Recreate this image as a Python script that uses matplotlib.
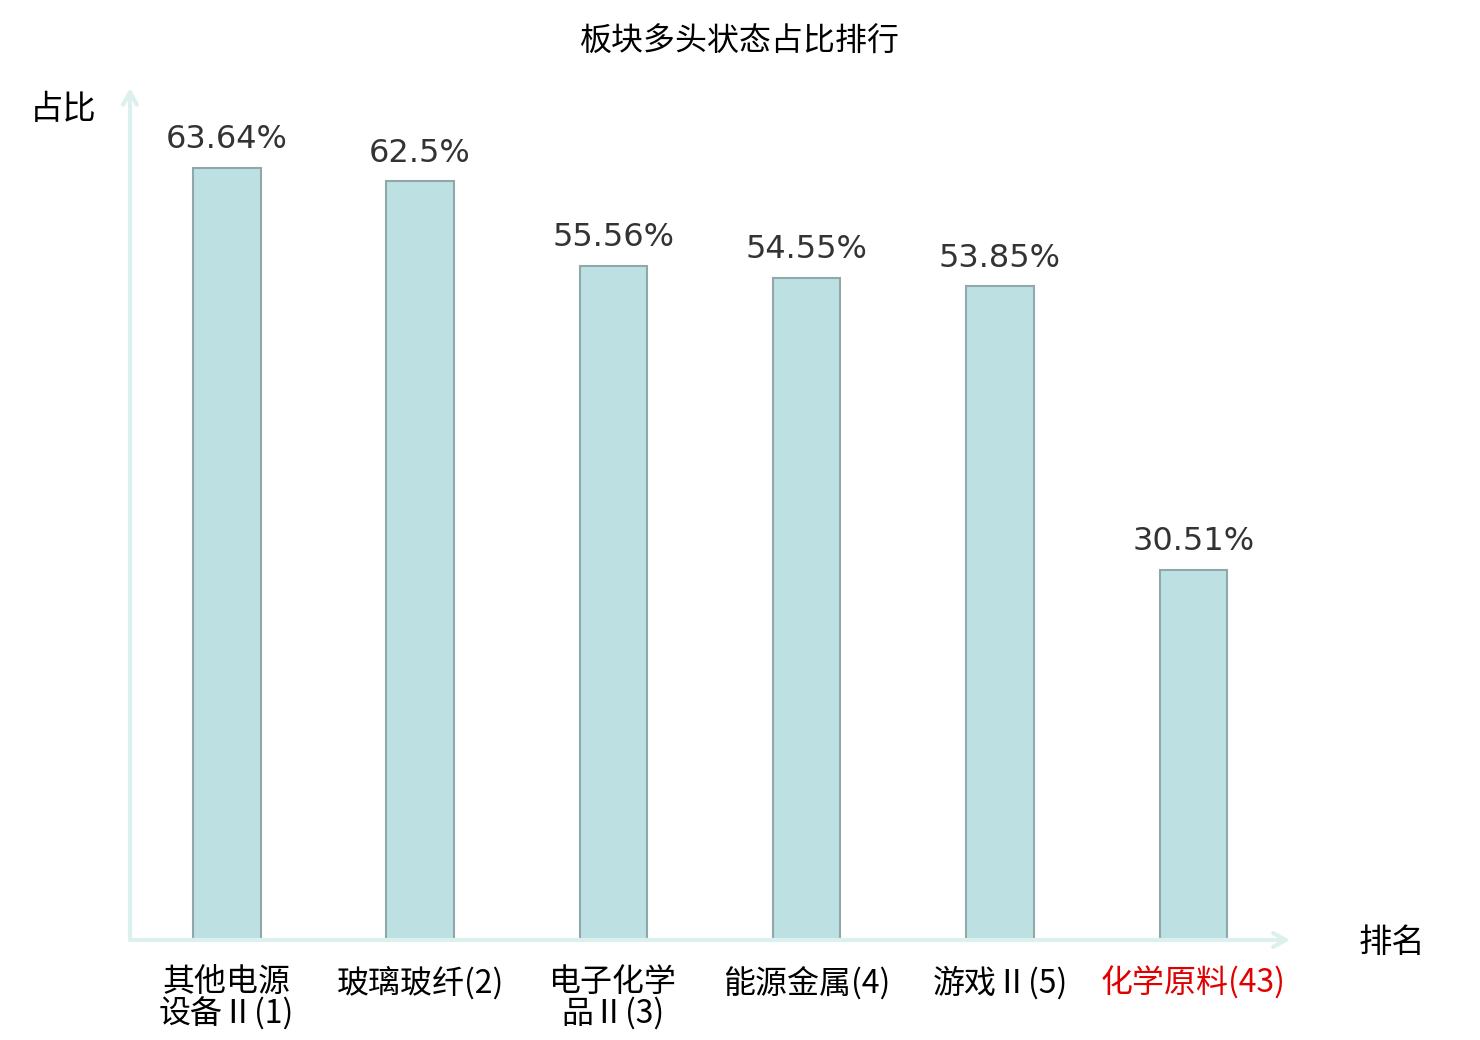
import matplotlib

matplotlib.use("Agg")
import matplotlib.pyplot as plt

plt.rcParams["font.family"] = ["Noto Sans CJK SC", "DejaVu Sans"]

# data
sectors = ["其他电源\n设备Ⅱ(1)", "玻璃玻纤(2)", "电子化学\n品Ⅱ(3)", "能源金属(4)", "游戏Ⅱ(5)", "化学原料(43)"]
ratios = [63.64, 62.5, 55.56, 54.55, 53.85, 30.51]
value_labels = ["63.64%", "62.5%", "55.56%", "54.55%", "53.85%", "30.51%"]
highlight = [False, False, False, False, False, True]

W, H = 1480, 1040
fig = plt.figure(figsize=(W / 100, H / 100), dpi=100)
ax = fig.add_axes([130 / W, 100 / H, 1160 / W, 852 / H])

xs = range(len(sectors))
ax.bar(xs, ratios, width=0.35, color="#bde0e3", edgecolor="#8fa9aa", linewidth=1.5, zorder=2)
for x, v, lab in zip(xs, ratios, value_labels):
    ax.annotate(lab, (x, v), xytext=(0, 9), textcoords="offset points",
                ha="center", va="bottom", fontsize=23, color="#333333",
                family="DejaVu Sans")

ax.set_xlim(-0.5, 5.5)
ax.set_ylim(0, 70.2)
for s in ax.spines.values():
    s.set_visible(False)
ax.set_yticks([])
ax.set_xticks(list(xs))
ax.set_xticklabels(sectors, fontsize=23, linespacing=0.95)
ax.tick_params(axis="x", length=0, pad=19)
for t, hl in zip(ax.get_xticklabels(), highlight):
    t.set_color("#e00000" if hl else "black")

axis_col = "#dcf1ee"
arrow = dict(arrowstyle="->,head_length=0.9,head_width=0.5", color=axis_col, lw=3,
             shrinkA=0, shrinkB=0)
ax.annotate("", xy=(1.0, 0), xytext=(0, 0), xycoords="axes fraction",
            arrowprops=arrow, annotation_clip=False)
ax.annotate("", xy=(0, 1.0), xytext=(0, 0), xycoords="axes fraction",
            arrowprops=arrow, annotation_clip=False)

fig.text(63 / W, 1 - 110 / H, "占比", fontsize=24, ha="center", va="center")
fig.text(1392 / W, 1 - 942 / H, "排名", fontsize=24, ha="center", va="center")
fig.text(740 / W, 1 - 42 / H, "板块多头状态占比排行", fontsize=23, ha="center", va="center")

fig.savefig("out.png", dpi=100)
